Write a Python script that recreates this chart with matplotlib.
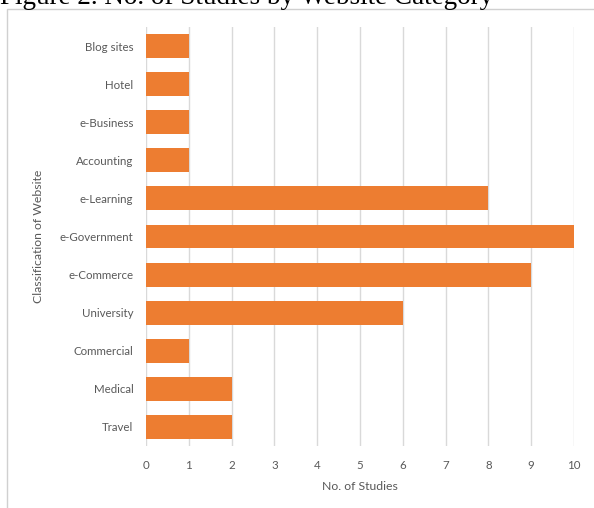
import matplotlib.pyplot as plt
from matplotlib.patches import Rectangle

categories = ['Blog sites', 'Hotel', 'e-Business', 'Accounting', 'e-Learning',
              'e-Government', 'e-Commerce', 'University', 'Commercial', 'Medical', 'Travel']
studies = [1, 1, 1, 1, 8, 10, 9, 6, 1, 2, 2]
x_ticks = list(range(0, 11))

W, H = 594, 508
fig = plt.figure(figsize=(W / 100, H / 100), dpi=100)

# outer frame of the chart (cut off on the right / bottom)
fig.patches.append(Rectangle((7 / W, -0.05), 1.1, 1 - 9 / H + 0.05, transform=fig.transFigure,
                             fill=False, edgecolor='#d0d0d0', linewidth=1.0))

# caption, partially cropped at the top
fig.text(0.0, 1 - 4 / H, 'Figure 2. No. of Studies by Website Category', fontsize=19.5,
         family='Liberation Serif', ha='left', va='baseline', color='black')

ax = fig.add_axes([146 / W, 1 - 446 / H, 428 / W, 419 / H])
pos = list(range(len(categories)))
ax.barh(pos, studies, height=0.63, color='#ED7D31', zorder=3)
ax.set_ylim(len(categories) - 0.5, -0.5)
ax.set_xlim(0, 10)
ax.set_xticks(x_ticks)
ax.set_yticks(pos)
ax.set_yticklabels(categories)
ax.grid(axis='x', color='#d9d9d9', linewidth=1.0, zorder=0)
for s in ax.spines.values():
    s.set_visible(False)
ax.tick_params(length=0, labelsize=8.3, labelcolor='#595959')
ax.tick_params(axis='x', pad=10)
ax.tick_params(axis='y', pad=9)
for lab in ax.get_xticklabels() + ax.get_yticklabels():
    lab.set_family('Lato')
ax.set_xlabel('No. of Studies', fontsize=8.8, color='#595959', family='Lato', labelpad=7)
ax.set_ylabel('Classification of Website', fontsize=8.8, color='#595959', family='Lato', labelpad=11)

fig.savefig('out.png', dpi=100)
